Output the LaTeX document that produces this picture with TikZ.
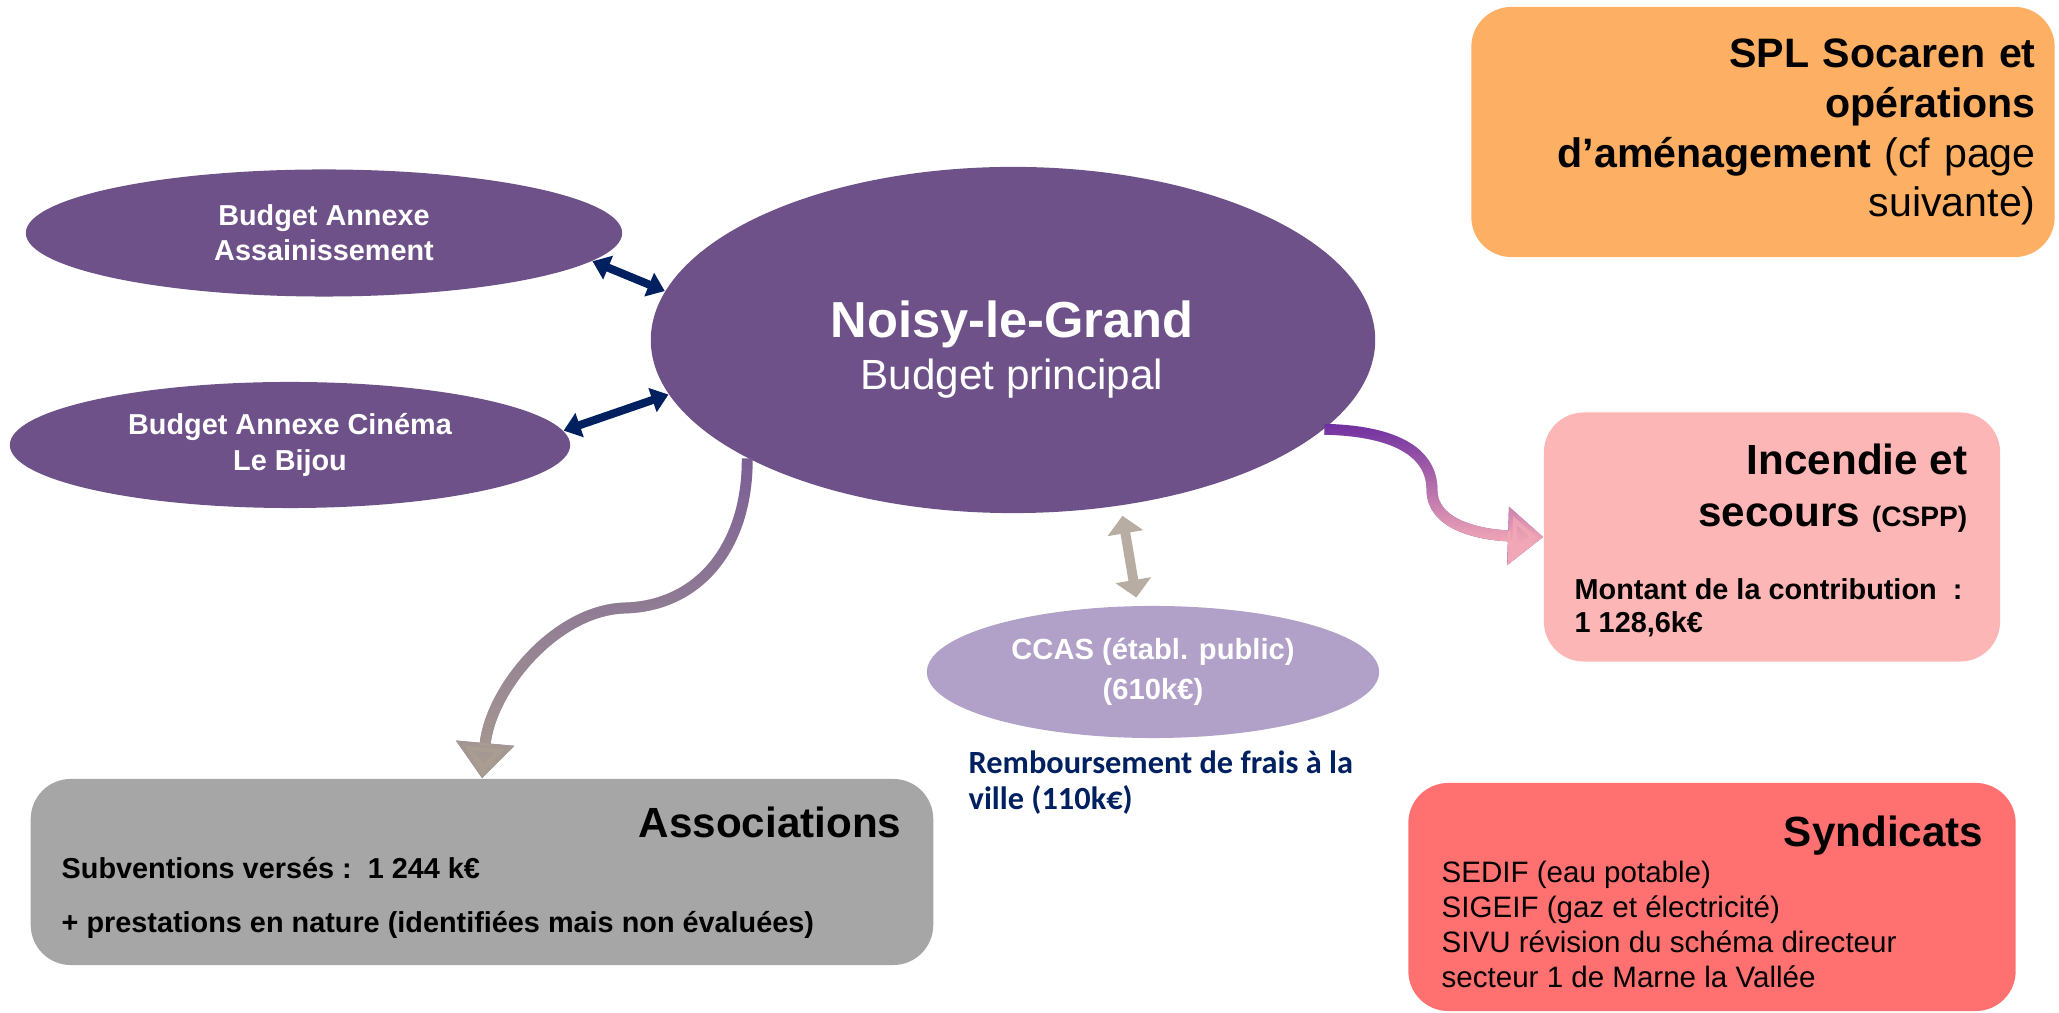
\documentclass[tikz,border=0pt]{standalone}
\usepackage{fontspec}
\setmainfont{Liberation Sans}
\newfontfamily\calib{Carlito}
\usetikzlibrary{shapes.geometric, arrows.meta, fadings}

\definecolor{noisyviolet}{HTML}{6F5189}
\definecolor{linknavy}{HTML}{002060}
\definecolor{ccaslilac}{HTML}{B1A0C7}
\definecolor{linktaupe}{HTML}{B8ADA2}
\definecolor{splorange}{HTML}{FDB064}
\definecolor{incpink}{HTML}{FDB6B6}
\definecolor{syndred}{HTML}{FF7171}
\definecolor{assogray}{HTML}{A6A6A6}
\definecolor{flowviolet}{HTML}{7030A0}
\definecolor{flowpink}{HTML}{F2A7B6}
\definecolor{flowmauve}{HTML}{7A5E96}
\definecolor{flowtaupe}{HTML}{AA9E92}

\tikzfading[name=fade down, top color=transparent!100, bottom color=transparent!0]

\tikzstyle{bubble} = [ellipse, fill=noisyviolet, text=white, inner sep=0pt,
                 align=center, font=\bfseries\fontsize{8.2}{10}\selectfont]
\tikzstyle{panel} = [rectangle, rounded corners=0.4cm, inner sep=0pt]
\tikzstyle{title} = [inner sep=0pt, align=right, font=\bfseries\fontsize{12}{14.8}\selectfont]
\tikzstyle{body} = [inner sep=0pt, align=left, font=\bfseries\fontsize{8.2}{9.4}\selectfont]
\tikzstyle{link} = [draw=linknavy, line width=2.3pt,
                 {Triangle[width=7pt,length=4.8pt]}-{Triangle[width=7pt,length=4.8pt]}]
\tikzstyle{tie} = [draw=linktaupe, line width=2.8pt,
                 {Triangle[width=10pt,length=5pt]}-{Triangle[width=10pt,length=5pt]}]
\tikzstyle{flow} = [line width=3.1pt, -{Triangle[width=16pt,length=10pt]}]

\begin{document}
\begin{tikzpicture}[x=0.01cm, y=-0.01cm]

\useasboundingbox (0,0) rectangle (2059,1013);

\node [bubble, minimum width=7.24cm, minimum height=3.46cm] at (1013,340) (main) {};
\node [inner sep=0pt, text=white, anchor=base, align=center,
       font=\fontsize{12}{14.8}\selectfont] at (1012,390) (noisy)
      {{\bfseries\fontsize{14.4}{14.8}\selectfont Noisy-le-Grand}\\Budget principal};

\node [bubble, minimum width=5.96cm, minimum height=1.27cm] at (324,233) (bas) {Budget Annexe\\Assainissement};
\node [bubble, minimum width=5.60cm, minimum height=1.26cm] at (290,445) (bac) {Budget Annexe Cinéma\\Le Bijou};
\node [bubble, fill=ccaslilac, minimum width=4.52cm, minimum height=1.32cm,
       font=\bfseries\fontsize{8.3}{11.2}\selectfont] at (1153,672) (ccas) {CCAS (établ. public)\\(610k€)};

\node [anchor=base west, inner sep=0pt, text=linknavy, align=left,
       font=\calib\bfseries\fontsize{9.2}{10.5}\selectfont] at (968,810) (frais)
      {Remboursement de frais à la\\ville (110k€)};

\node [panel, fill=splorange, minimum width=5.83cm, minimum height=2.50cm, text width=5.45cm,
       align=right, font=\fontsize{11.7}{14.2}\selectfont] at (1763,132) (spl)
      {\textbf{SPL Socaren et}\\\textbf{opérations}\\\textbf{d’aménagement} (cf page\\suivante)};

\node [panel, fill=incpink, minimum width=4.56cm, minimum height=2.49cm] at (1772,537) (inc) {};
\node [title, anchor=base east] at (1968,527) (inctitle) {Incendie et\\secours {\fontsize{8}{14.8}\selectfont (CSPP)}};
\node [body, anchor=base west] at (1574,633) (incbody) {Montant de la contribution~~:\\1 128,6k€};

\node [panel, fill=assogray, minimum width=9.02cm, minimum height=1.86cm] at (482,872) (asso) {};
\node [title, anchor=base east] at (902,838) (assotitle) {Associations};
\node [body, anchor=base west, font=\bfseries\fontsize{8.2}{15.6}\selectfont] at (61,933) (assobody)
      {Subventions versés :~~1 244 k€\\+ prestations en nature (identifiées mais non évaluées)};

\node [panel, fill=syndred, minimum width=6.07cm, minimum height=2.28cm] at (1712,897) (synd) {};
\node [title, anchor=base east] at (1984,847) (syndtitle) {Syndicats};
\node [body, anchor=base west, font=\fontsize{8.4}{10}\selectfont] at (1441,988) (syndbody)
      {SEDIF (eau potable)\\SIGEIF (gaz et électricité)\\SIVU révision du schéma directeur\\secteur 1 de Marne la Vallée};

\draw [link] (bas.-6) -- (main.172);
\draw [link] (bac.3) -- (main.189);
\draw [tie, shorten <=0.1cm, shorten >=0.08cm] (main.-57) -- (ccas.103);

\draw [flow, draw=flowviolet] (main.-16) .. controls (1400,431) and (1432,455) .. (1432,490)
      .. controls (1432,525) and (1480,535) .. (inc.west);
\draw [flow, draw=flowpink, path fading=fade down] (main.-16) .. controls (1400,431) and (1432,455) .. (1432,490)
      .. controls (1432,525) and (1480,535) .. (inc.west);

\draw [flow, draw=flowmauve] (main.204) .. controls (748,545) and (700,606) .. (625,608)
      .. controls (555,610) and (490,690) .. (asso.north);
\draw [flow, draw=flowtaupe, path fading=fade down] (main.204) .. controls (748,545) and (700,606) .. (625,608)
      .. controls (555,610) and (490,690) .. (asso.north);

\end{tikzpicture}
\end{document}
